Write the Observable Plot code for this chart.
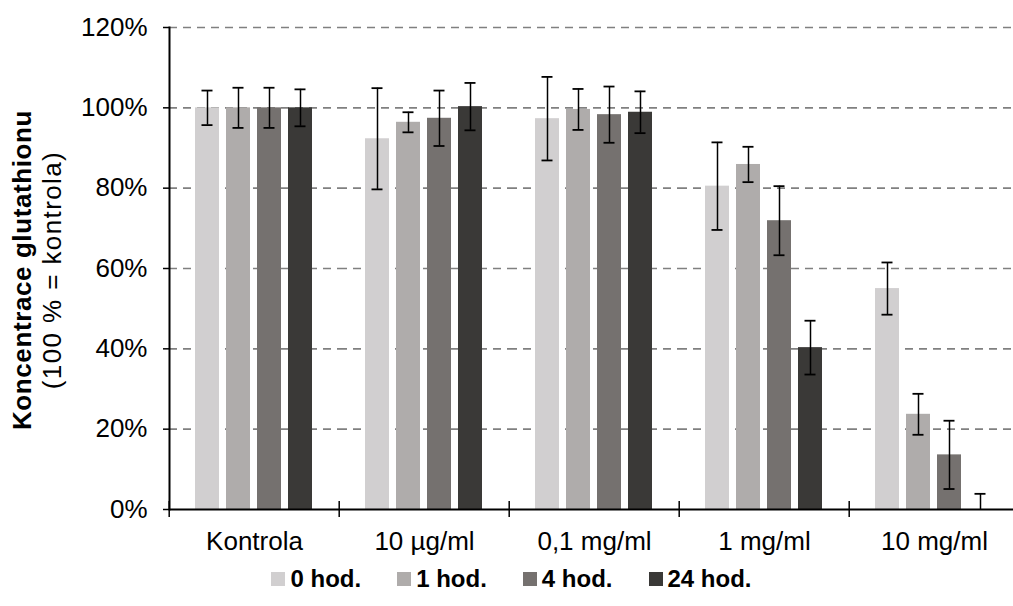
<!DOCTYPE html>
<html><head><meta charset="utf-8">
<script src="https://cdn.jsdelivr.net/npm/d3@7"></script>
<script src="https://cdn.jsdelivr.net/npm/@observablehq/plot@0.6"></script>
<style>
html,body{margin:0;padding:0;background:#fff;overflow:hidden;}
body{font-family:Arial,"Liberation Sans",sans-serif;color:#000;}
#wrap{position:relative;width:1013px;height:606px;}
#ytitle{position:absolute;left:-163px;top:240px;width:400px;height:60px;transform:rotate(-90deg);transform-origin:50% 50%;text-align:center;font-size:26px;line-height:30px;}
#ytitle .b{font-weight:bold;letter-spacing:0.6px;}
#ytitle .n{letter-spacing:1.4px;}
#legend{display:flex;justify-content:center;align-items:center;height:38px;padding-left:10px;font-weight:bold;font-size:24px;}
#legend .item{display:flex;align-items:center;margin:0 18px;}
#legend .sw{width:14px;height:14px;margin-right:5px;}
</style></head><body>
<div id="wrap"><div id="chart"></div><div id="ytitle"><div class="b">Koncentrace glutathionu</div><div class="n">(100 % = kontrola)</div></div><div id="legend"></div></div>
<script>
const categories = ["Kontrola", "10 µg/ml", "0,1 mg/ml", "1 mg/ml", "10 mg/ml"];
const series = ["0 hod.", "1 hod.", "4 hod.", "24 hod."];
const colors = ["#d1cfd0", "#afacab", "#75716f", "#3a3937"];
const yTicks = [0, 20, 40, 60, 80, 100, 120];

const val0h = [100, 92.3, 97.3, 80.5, 55.0];
const val1h = [100, 96.4, 99.6, 85.9, 23.7];
const val4h = [100, 97.4, 98.3, 71.9, 13.6];
const val24h = [100, 100.3, 98.9, 40.3, 0];

const err0h = [4.3, 12.6, 10.4, 10.9, 6.5];
const err1h = [5.0, 2.5, 5.1, 4.4, 5.1];
const err4h = [5.0, 6.9, 7.0, 8.6, 8.5];
const err24h = [4.6, 5.9, 5.2, 6.7, 3.9];

const values = [val0h, val1h, val4h, val24h];
const errors = [err0h, err1h, err4h, err24h];
const rows = categories.flatMap((c, i) => series.map((s, j) => ({cat: c, ser: s, v: values[j][i], e: errors[j][i]})));

const W = 1013, H = 560, mL = 167, mR = -7, mT = 27, mB = 51;
const step = (W - mL - mR) / categories.length;
const groupInset = step * 0.125;

const plot = Plot.plot({
  width: W, height: H, marginLeft: mL, marginRight: mR, marginTop: mT, marginBottom: mB,
  style: {fontFamily: "Arial, 'Liberation Sans', sans-serif", fontSize: "26px", color: "#000", background: "#fff", overflow: "visible"},
  fx: {domain: categories, padding: 0, axis: null, label: null},
  x: {domain: series, paddingInner: 0.22, paddingOuter: 0.11, insetLeft: groupInset, insetRight: groupInset, axis: null, label: null},
  y: {domain: [0, 120], axis: null, label: null},
  color: {domain: series, range: colors},
  marks: [
    Plot.gridY(yTicks.filter(d => d > 0), {stroke: "#808080", strokeOpacity: 1, strokeWidth: 1.6, strokeDasharray: "8,6"}),
    Plot.barY(rows, {fx: "cat", x: "ser", y: "v", fill: "ser"}),
    Plot.ruleX(rows, {fx: "cat", x: "ser", y1: d => Math.max(0, d.v - d.e), y2: d => d.v + d.e, stroke: "#000", strokeWidth: 1.5}),
    Plot.tickY(rows, {fx: "cat", x: "ser", y: d => d.v + d.e, insetLeft: 6.5, insetRight: 6.5, stroke: "#000", strokeWidth: 1.8}),
    Plot.tickY(rows.filter(d => d.v - d.e >= 0), {fx: "cat", x: "ser", y: d => d.v - d.e, insetLeft: 6.5, insetRight: 6.5, stroke: "#000", strokeWidth: 1.8}),
    Plot.ruleY([0], {stroke: "#000", strokeWidth: 2}),
    Plot.frame({anchor: "left", facetAnchor: "left", stroke: "#000", strokeWidth: 2}),
    Plot.axisY({ticks: yTicks, tickFormat: d => d + "%", tickSize: 6, tickPadding: 16, fontSize: 26, stroke: "#000", strokeWidth: 1.5, label: null}),
    Plot.axisFx({anchor: "bottom", tickSize: 0, tickPadding: 22, fontSize: 26, label: null}),
    Plot.axisFx({anchor: "bottom", tickSize: 16, dy: -8, dx: -step / 2, text: null, stroke: "#000", strokeWidth: 1.5, label: null})
  ]
});
document.getElementById("chart").appendChild(plot);

const legend = d3.select("#legend");
series.forEach((s, j) => {
  const it = legend.append("div").attr("class", "item");
  it.append("div").attr("class", "sw").style("background", colors[j]);
  it.append("span").text(s);
});
</script>
</body></html>
